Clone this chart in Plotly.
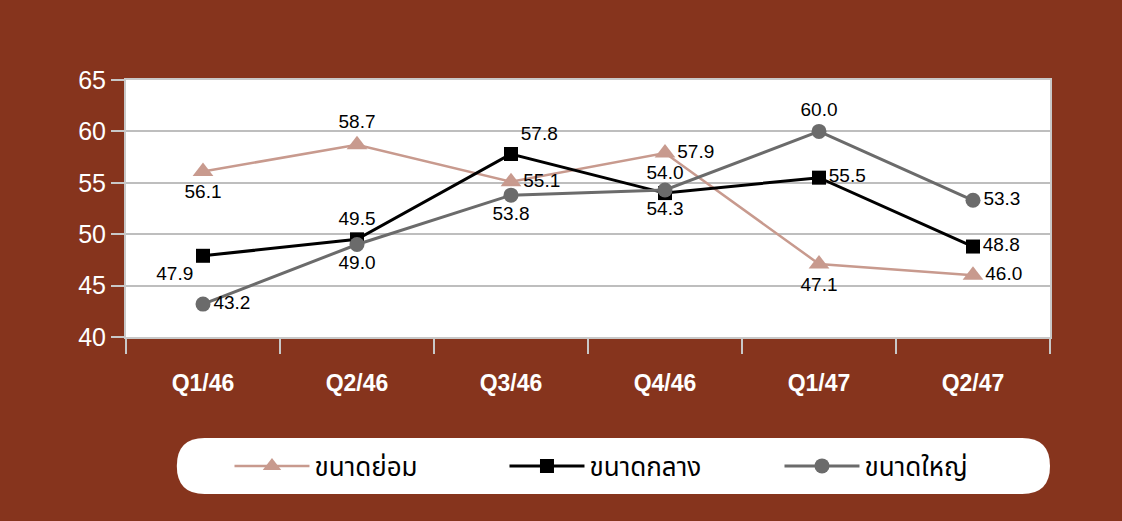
import plotly.graph_objects as go

quarters = ["Q1/46", "Q2/46", "Q3/46", "Q4/46", "Q1/47", "Q2/47"]
small = [56.1, 58.7, 55.1, 57.9, 47.1, 46.0]
medium = [47.9, 49.5, 57.8, 54.0, 55.5, 48.8]
large = [43.2, 49.0, 53.8, 54.3, 60.0, 53.3]

small_pos = ["bottom center", "top center", "middle right", "middle right", "bottom center", "middle right"]
medium_pos = ["bottom left", "top center", "top right", "top center", "middle right", "middle right"]
large_pos = ["middle right", "bottom center", "bottom center", "bottom center", "top center", "middle right"]

BG = "#86341D"
GRID = "#BEBEBE"
label_font = dict(family="Liberation Sans, Arial, sans-serif", size=19, color="#000000")

fig = go.Figure()
series = [
    ("ขนาดย่อม", small, small_pos, "#C89A8E", "triangle-up", 2.5, 18),
    ("ขนาดกลาง", medium, medium_pos, "#000000", "square", 3, 14),
    ("ขนาดใหญ่", large, large_pos, "#6B6B6B", "circle", 3, 15),
]
for name, vals, pos, color, sym, w, ms in series:
    fig.add_trace(go.Scatter(
        x=quarters, y=vals, name=name, mode="lines+markers+text",
        text=[f"{v:.1f}" for v in vals], textposition=pos,
        textfont=label_font,
        line=dict(color=color, width=w),
        marker=dict(symbol=sym, size=ms, color=color),
        cliponaxis=False,
    ))

# white rounded box behind the legend
x0, x1, y0, y1 = 0.055, 1.0, -0.611, -0.393
rx, ry = 0.030, 0.109
path = (f"M {x0+rx},{y1} L {x1-rx},{y1} Q {x1},{y1} {x1},{y1-ry} "
        f"L {x1},{y0+ry} Q {x1},{y0} {x1-rx},{y0} L {x0+rx},{y0} "
        f"Q {x0},{y0} {x0},{y0+ry} L {x0},{y1-ry} Q {x0},{y1} {x0+rx},{y1} Z")
fig.add_shape(type="path", path=path, xref="paper", yref="paper",
              fillcolor="white", line=dict(width=0), layer="below")

fig.update_layout(
    width=1122, height=521,
    paper_bgcolor=BG, plot_bgcolor="white",
    margin=dict(l=126, r=72, t=80, b=184),
    showlegend=True,
    legend=dict(orientation="h", x=0.112, xanchor="left", y=-0.502, yanchor="middle",
                bgcolor="rgba(0,0,0,0)",
                font=dict(family="Noto Sans Thai, Loma, Garuda, sans-serif", size=26, color="#000000"),
                itemwidth=75, entrywidth=185, entrywidthmode="pixels"),
    xaxis=dict(
        type="category", range=[-0.5, 5.5],
        tickson="boundaries", ticks="outside", ticklen=15, tickcolor="#C8C8C8", tickwidth=2,
        showgrid=False, showline=True, linecolor="#C8C8C8", linewidth=2, mirror=True,
        tickfont=dict(family="Liberation Sans, Arial, sans-serif", size=23, color="white", weight="bold"),
        ticklabelstandoff=24,
    ),
    yaxis=dict(
        range=[40, 65], dtick=5, tick0=40,
        ticks="outside", ticklen=13, tickcolor="#C8C8C8", tickwidth=2,
        showgrid=True, gridcolor=GRID, gridwidth=2,
        showline=True, linecolor="#C8C8C8", linewidth=2, mirror=True,
        zeroline=False,
        tickfont=dict(family="Liberation Sans, Arial, sans-serif", size=25, color="white"),
    ),
)

fig.write_html("out.html")
